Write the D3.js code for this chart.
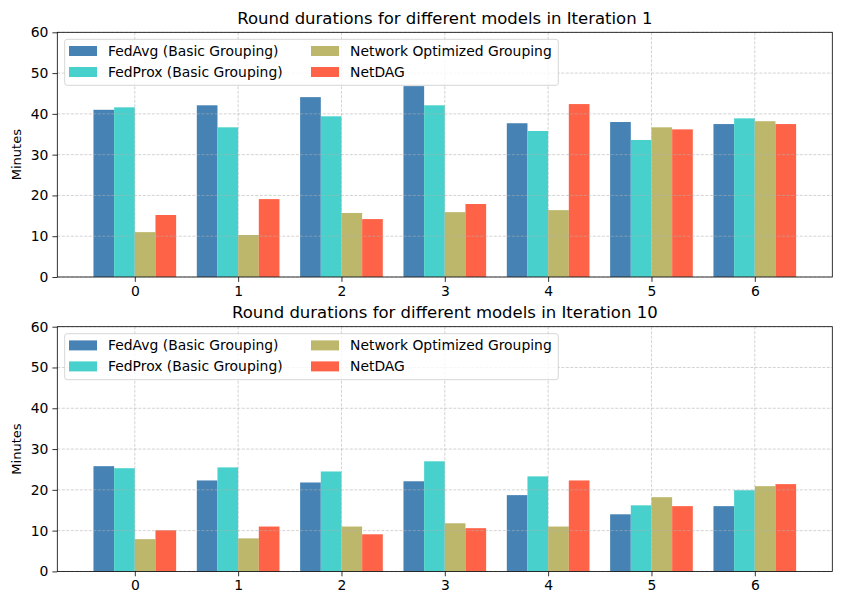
<!DOCTYPE html>
<html>
<head>
<meta charset="utf-8">
<script src="https://cdn.jsdelivr.net/npm/d3@7"></script>
<style>
  body { margin: 0; background: #fff; }
  svg { font-family: "DejaVu Sans", sans-serif; }
</style>
</head>
<body>
<svg id="chart" width="841" height="605"></svg>
<script>
var rounds = [0, 1, 2, 3, 4, 5, 6];
var models = ["FedAvg (Basic Grouping)", "FedProx (Basic Grouping)", "Network Optimized Grouping", "NetDAG"];
var colors = ["#4682B4", "#48D1CC", "#BDB76B", "#FF6347"];
var yTicks = [0, 10, 20, 30, 40, 50, 60];

// iteration 1
var fedavg1  = [41.0, 42.1, 44.1, 46.8, 37.7, 38.0, 37.5];
var fedprox1 = [41.6, 36.7, 39.4, 42.1, 35.8, 33.6, 38.9];
var netopt1  = [11.0, 10.3, 15.7, 15.9, 16.4, 36.7, 38.2];
var netdag1  = [15.2, 19.1, 14.2, 17.9, 42.4, 36.2, 37.5];

// iteration 10
var fedavg10  = [25.8, 22.3, 21.8, 22.1, 18.7, 14.0, 16.0];
var fedprox10 = [25.3, 25.5, 24.5, 27.0, 23.3, 16.2, 19.9];
var netopt10  = [7.9, 8.1, 11.0, 11.8, 11.0, 18.2, 20.9];
var netdag10  = [10.1, 11.0, 9.1, 10.6, 22.3, 16.0, 21.4];

var svg = d3.select("#chart");
var left = 57.3, width = 775, height = 244.7;
var barW = 0.2;

function drawPanel(top, title, series) {
  var x = d3.scaleLinear().domain([-0.75, 6.75]).range([0, width]);
  var y = d3.scaleLinear().domain([0, 60]).range([height, 0]);

  var g = svg.append("g").attr("transform", "translate(" + left + "," + top + ")");

  // bars
  series.forEach(function(vals, s) {
    g.selectAll(".bar" + s)
      .data(vals)
      .enter()
      .append("rect")
      .attr("x", function(d, i) { return x(rounds[i] + (s - 2) * barW); })
      .attr("width", x(barW) - x(0))
      .attr("y", function(d) { return y(d); })
      .attr("height", function(d) { return height - y(d); })
      .attr("fill", colors[s]);
  });

  // grid over the bars
  var grid = g.append("g")
    .attr("stroke", "#b0b0b0")
    .attr("stroke-opacity", 0.7)
    .attr("stroke-width", 0.8)
    .attr("stroke-dasharray", "3,1.5");
  grid.selectAll(".gx").data(rounds).enter().append("line")
    .attr("x1", function(d) { return x(d); }).attr("x2", function(d) { return x(d); })
    .attr("y1", 0).attr("y2", height);
  grid.selectAll(".gy").data(yTicks).enter().append("line")
    .attr("x1", 0).attr("x2", width)
    .attr("y1", function(d) { return y(d); }).attr("y2", function(d) { return y(d); });

  // axes
  var xAxis = g.append("g").attr("transform", "translate(0," + height + ")")
    .call(d3.axisBottom(x).tickValues(rounds).tickFormat(d3.format("d")).tickSize(4.9).tickPadding(4));
  var yAxis = g.append("g")
    .call(d3.axisLeft(y).tickValues(yTicks).tickSize(4.9).tickPadding(4));
  [xAxis, yAxis].forEach(function(a) {
    a.select(".domain").remove();
    a.selectAll("line").attr("stroke", "#000").attr("stroke-width", 0.8);
    a.selectAll("text").attr("font-size", "13.9px").attr("fill", "#000")
      .attr("font-family", "DejaVu Sans, sans-serif");
  });

  g.append("rect")
    .attr("width", width).attr("height", height)
    .attr("fill", "none").attr("stroke", "#000").attr("stroke-width", 0.8);

  // title and y label
  g.append("text")
    .attr("x", width / 2).attr("y", -14)
    .attr("dy", "0.35em")
    .attr("text-anchor", "middle")
    .attr("font-size", "16.5px")
    .text(title);

  g.append("text")
    .attr("transform", "translate(" + (-40.5) + "," + (height / 2) + ") rotate(-90)")
    .attr("text-anchor", "middle")
    .attr("dy", "0.35em")
    .attr("font-size", "13px")
    .text("Minutes");

  // legend
  var lg = g.append("g").attr("transform", "translate(7.4,7)");
  lg.append("rect")
    .attr("width", 493.6).attr("height", 46)
    .attr("rx", 2.5)
    .attr("fill", "#fff").attr("fill-opacity", 0.8)
    .attr("stroke", "#cccccc").attr("stroke-width", 0.8);
  var items = lg.selectAll(".item").data(models).enter().append("g")
    .attr("transform", function(d, i) {
      var col = Math.floor(i / 2), row = i % 2;
      return "translate(" + (4.3 + col * 242) + "," + (11.7 + row * 21) + ")";
    });
  items.append("rect")
    .attr("y", -5).attr("width", 28).attr("height", 10)
    .attr("fill", function(d, i) { return colors[i]; });
  items.append("text")
    .attr("x", 39).attr("dy", "0.35em")
    .attr("font-size", "13.9px")
    .text(function(d) { return d; });
}

drawPanel(32.3, "Round durations for different models in Iteration 1", [fedavg1, fedprox1, netopt1, netdag1]);
drawPanel(326.7, "Round durations for different models in Iteration 10", [fedavg10, fedprox10, netopt10, netdag10]);
</script>
</body>
</html>
